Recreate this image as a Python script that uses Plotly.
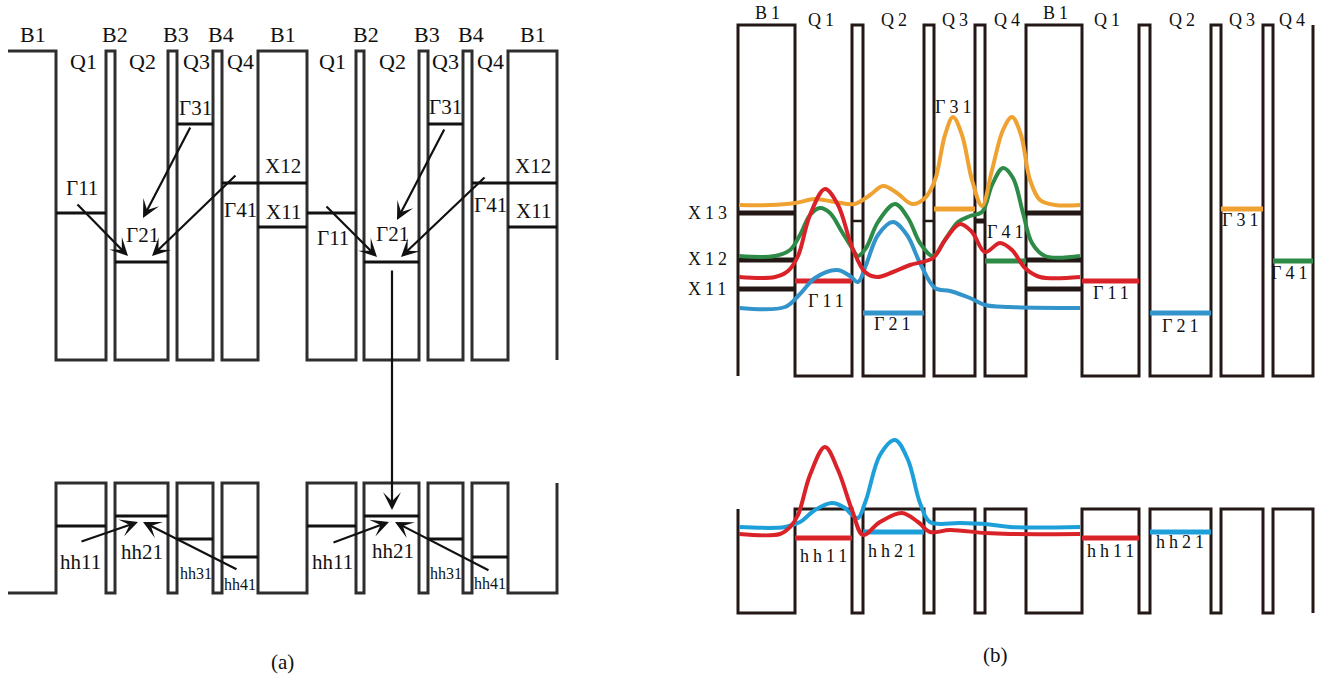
import plotly.graph_objects as go

# ---------------- (a) flat-band schematic, two periods ----------------
# layer boundaries along the growth direction: Q1|B2|Q2|B3|Q3|B4|Q4|B1 ...
A_EDGES = [56, 106, 115, 168, 177, 213, 222, 258, 307,
           356, 364, 419, 428, 463, 472, 508, 557]
A_X0 = 8
A_CB = (51, 360)     # conduction band: barrier edge, well edge
A_VB = (593, 483)    # valence band: barrier edge, well edge

A_GAMMA = ["Γ11", "Γ21", "Γ31", "Γ41"]
A_GAMMA_E = [213, 262, 124, 183]
A_X = ["X12", "X11"]
A_X_E = [183, 227]
A_HH = ["hh11", "hh21", "hh31", "hh41"]
A_HH_E = [526, 516, 539, 557]

# ---------------- (b) band edges with envelope functions ----------------
B_EDGES = [738, 795, 852, 863, 924, 934, 975, 985, 1026,
           1082, 1139, 1150, 1211, 1221, 1263, 1273, 1313]
B_CB = (376, 25)     # starts in the well, then barrier
B_VB = (509, 613)
B_GAMMA = ["Γ11", "Γ21", "Γ31", "Γ41"]
B_GAMMA_E = [281, 313, 209, 261]
B_X = ["X13", "X12", "X11"]
B_X_E = [213, 260, 289]
B_X_THIN_E = 221
B_HH = ["hh11", "hh21"]
B_HH_E = [538, 532]

# envelope functions (conduction band)
G11_X = [739, 775, 788, 798, 810, 825, 838, 852, 865, 877, 893, 910, 933, 945, 960, 972, 985, 1000, 1012, 1025, 1040, 1080]
G11_Y = [277, 277, 271, 256, 215, 189, 205, 247, 272, 277, 272, 265, 258, 240, 224, 232, 252, 243, 250, 268, 277, 277]
G21_X = [739, 785, 800, 815, 837, 850, 858, 866, 878, 893, 907, 920, 935, 950, 970, 985, 1010, 1080]
G21_Y = [308, 307, 294, 278, 270, 276, 282, 265, 235, 222, 235, 263, 288, 291, 298, 305, 307, 308]
G31_X = [739, 770, 795, 815, 835, 855, 870, 883, 897, 912, 925, 935, 945, 953, 962, 972, 982, 992, 1003, 1012, 1021, 1030, 1040, 1055, 1080]
G31_Y = [205, 205, 203, 199, 202, 204, 195, 186, 193, 204, 198, 180, 135, 117, 135, 180, 206, 170, 130, 117, 135, 180, 200, 205, 205]
G41_X = [739, 775, 790, 800, 810, 820, 830, 842, 852, 858, 866, 878, 895, 908, 920, 933, 945, 958, 970, 982, 992, 1003, 1013, 1023, 1032, 1045, 1080]
G41_Y = [256, 256, 250, 235, 215, 208, 213, 232, 248, 256, 248, 222, 204, 218, 243, 256, 240, 222, 216, 212, 185, 168, 178, 213, 243, 256, 256]
# envelope functions (valence band)
HH11_X = [739, 780, 790, 798, 810, 825, 838, 852, 863, 880, 902, 918, 930, 950, 985, 1010, 1080]
HH11_Y = [534, 534, 527, 515, 475, 447, 470, 510, 535, 522, 513, 522, 532, 530, 533, 534, 534]
HH21_X = [739, 785, 800, 815, 832, 845, 852, 858, 866, 880, 895, 908, 920, 930, 960, 985, 1010, 1080]
HH21_Y = [527, 527, 522, 510, 503, 508, 515, 518, 500, 455, 440, 460, 503, 522, 523, 524, 527, 527]

RED = "#DA2229"
BLUE = "#3394CB"
CYAN = "#1DA0DA"
ORANGE = "#EFA231"
GREEN = "#2E8B47"
INK_A = "#2E2E2E"
INK_B = "#231815"
SERIF = "Liberation Serif"


def profile(x0, edges, start, other):
    """Square-well band edge: toggles between two levels at each boundary."""
    lv = [start, other]
    xs, ys, cur = [x0], [start], 0
    for e in edges:
        xs += [e, e]
        ys += [lv[cur], lv[1 - cur]]
        cur = 1 - cur
    return xs, ys


def segs(spans, y):
    xs, ys = [], []
    for a, b in spans:
        xs += [a, b, None]
        ys += [y, y, None]
    return xs, ys


def line(fig, xs, ys, color, width, shape="linear"):
    fig.add_trace(go.Scatter(x=xs, y=ys, mode="lines", hoverinfo="skip",
                             line=dict(color=color, width=width, shape=shape)))


fig = go.Figure()
ann = []


def label(x, y, text, size=21, spacing=0):
    if spacing:
        text = f"<span style='letter-spacing:{spacing}px'>{text}</span>"
    ann.append(dict(x=x, y=y, xref="x", yref="y", text=text, showarrow=False,
                    xshift=spacing / 2, font=dict(family=SERIF, size=size, color="#111")))


def arrow(tail, head, size=1.35, width=2.2):
    ann.append(dict(x=head[0], y=head[1], ax=tail[0], ay=tail[1], xref="x", yref="y",
                    axref="x", ayref="y", text="", showarrow=True, arrowhead=3,
                    arrowsize=size, arrowwidth=width, arrowcolor="#111", standoff=0))


# ---- (a) band edges
for top, bot in (A_CB, A_VB):
    xs, ys = profile(A_X0, A_EDGES, top, bot)
    line(fig, xs, ys, INK_A, 3)

# ---- (a) confined levels, repeated in each period
for p in range(2):
    o = 8 * p
    wells = [(A_EDGES[o + 2 * k], A_EDGES[o + 2 * k + 1]) for k in range(4)]
    barrier = (A_EDGES[o + 7], A_EDGES[o + 8])
    for (a, b), e in zip(wells, A_GAMMA_E):
        line(fig, *segs([(a, b)], e), "#111", 3)
    for e in A_X_E:
        line(fig, *segs([barrier], e), "#111", 3)
    for (a, b), e in zip(wells, A_HH_E):
        line(fig, *segs([(a, b)], e), "#111", 3)

# ---- (b) band edges
for s, t in (B_CB, B_VB):
    xs, ys = profile(B_EDGES[0], B_EDGES, s, t)
    line(fig, xs, ys, INK_B, 3)

b_wells = [(B_EDGES[2 * k + 1], B_EDGES[2 * k + 2]) for k in range(8)]
b_b1 = [(B_EDGES[0], B_EDGES[1]), (B_EDGES[8], B_EDGES[9])]
b_thin = [(B_EDGES[2], B_EDGES[3]), (B_EDGES[4], B_EDGES[5]), (B_EDGES[6], B_EDGES[7])]

for e in B_X_E:
    line(fig, *segs(b_b1, e), INK_B, 5)
line(fig, *segs(b_thin[:2], B_X_THIN_E), INK_B, 2.5)
line(fig, *segs(b_thin[2:], B_X_THIN_E), INK_B, 5)

for k, (e, c) in enumerate(zip(B_GAMMA_E, [RED, BLUE, ORANGE, GREEN])):
    line(fig, *segs([b_wells[k], b_wells[k + 4]], e), c, 5)
for k, (e, c) in enumerate(zip(B_HH_E, [RED, CYAN])):
    line(fig, *segs([b_wells[k], b_wells[k + 4]], e), c, 5)

for xs, ys, c in ((G21_X, G21_Y, BLUE), (G41_X, G41_Y, GREEN),
                  (G31_X, G31_Y, ORANGE), (G11_X, G11_Y, RED),
                  (HH21_X, HH21_Y, CYAN), (HH11_X, HH11_Y, RED)):
    line(fig, xs, ys, c, 4, shape="spline")

# ---- (a) text
for t, x in zip(["B1", "B2", "B3", "B4", "B1", "B2", "B3", "B4", "B1"],
                [33, 115, 176, 221, 283, 366, 427, 471, 533]):
    label(x, 34, t, size=22)
for t, x in zip(["Q1", "Q2", "Q3", "Q4"] * 2, [83, 142, 196, 240, 332, 392, 445, 490]):
    label(x, 61, t, size=22)
for t, x, y in zip(A_GAMMA * 2, [82, 142, 195, 240, 333, 392, 445, 490],
                   [188, 235, 108, 210, 238, 234, 107, 205]):
    label(x, y, t)
for t, x, y in zip(A_X * 2, [283, 283, 533, 533], [166, 212, 166, 211]):
    label(x, y, t)
for t, x, y, s in zip(A_HH * 2, [80, 142, 196, 240, 332, 393, 446, 490],
                      [562, 552, 573, 584, 562, 551, 573, 583],
                      [21, 21, 16, 16] * 2):
    label(x, y, t, size=s)
label(282, 662, "(a)")
label(995, 655, "(b)")

# ---- (a) transition arrows
for tail, head in [((76, 203), (128, 256)), ((191, 126), (143, 218)), ((237, 174), (152, 256)),
                   ((325, 205), (377, 257)), ((445, 128), (397, 220)), ((486, 176), (401, 257)),
                   ((392, 269), (392, 510)),
                   ((80, 542), (138, 522)), ((238, 570), (143, 522)),
                   ((332, 543), (389, 522)), ((490, 571), (395, 522))]:
    arrow(tail, head)

# ---- (b) text
SP = 4
FS = 18
for t, x, y in zip(["B1", "Q1", "Q2", "Q3", "Q4", "B1", "Q1", "Q2", "Q3", "Q4"],
                   [767, 821, 894, 955, 1007, 1055, 1107, 1182, 1242, 1292],
                   [13, 20, 20, 20, 20, 13, 20, 20, 20, 20]):
    label(x, y, t, size=FS, spacing=SP)
for t, y in zip(B_X, [213, 259, 289]):
    label(707, y, t, size=FS, spacing=SP)
for t, x, y in zip(B_GAMMA * 2, [826, 892, 953, 1005, 1111, 1180, 1240, 1289],
                   [301, 324, 107, 232, 293, 326, 220, 273]):
    label(x, y, t, size=FS, spacing=SP)
for t, x, y in zip(B_HH * 2, [823, 892, 1110, 1180], [556, 551, 551, 542]):
    label(x, y, t, size=FS, spacing=SP)

fig.update_layout(
    width=1317, height=681, margin=dict(l=0, r=0, t=0, b=0),
    paper_bgcolor="white", plot_bgcolor="white", showlegend=False,
    xaxis=dict(range=[0, 1317], visible=False, fixedrange=True),
    yaxis=dict(range=[681, 0], visible=False, fixedrange=True),
    annotations=ann,
)
fig.write_html("out.html")
